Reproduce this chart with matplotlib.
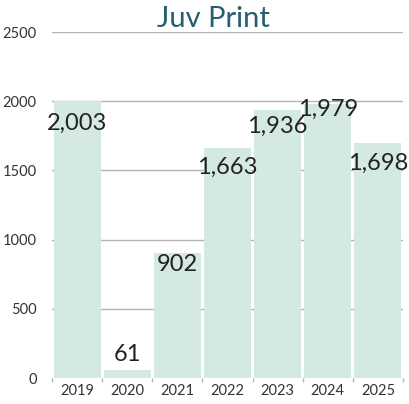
import matplotlib
import matplotlib.pyplot as plt
import numpy as np

matplotlib.use('agg')

years = ['2019', '2020', '2021', '2022', '2023', '2024', '2025']
values = [2003, 61, 902, 1663, 1936, 1979, 1698]
value_labels = ['2,003', '61', '902', '1,663', '1,936', '1,979', '1,698']
# label centre offset from the bar top, in points (negative = above)
label_offsets = [16, -11, 8, 14, 12, 4, 15]

bar_color = '#d3e9e1'
grid_color = '#b4b4b4'
text_color = '#222222'
title_color = '#245e70'

plt.rcParams['font.family'] = ['Lato', 'DejaVu Sans']

fig = plt.figure(figsize=(4.09, 4.04), dpi=100)
ax = fig.add_axes([52 / 409, 1 - 378 / 404, 351 / 409, 346 / 404])

x = np.arange(len(years))
ax.bar(x, values, width=0.94, color=bar_color, zorder=2)

for xi, v, lab, off in zip(x, values, value_labels, label_offsets):
    ax.annotate(lab, (xi, v), xytext=(0, -off), textcoords='offset points',
                ha='center', va='center', fontsize=17, color=text_color, zorder=3)

ax.set_xlim(-0.5, len(years) - 0.5)
ax.set_ylim(0, 2500)
ax.set_yticks([0, 500, 1000, 1500, 2000, 2500])
ax.set_xticks(x)
ax.set_xticklabels(years)
ax.set_xticks(np.arange(len(years) + 1) - 0.5, minor=True)
ax.tick_params(axis='x', which='major', length=0, labelsize=10.5, labelcolor='#333333', pad=4)
ax.tick_params(axis='x', which='minor', length=3, color=grid_color, width=1)
ax.tick_params(axis='y', length=0, labelsize=10.5, labelcolor='#333333', pad=11)
ax.yaxis.grid(True, color=grid_color, linewidth=1, zorder=0)
ax.set_axisbelow(True)
for side in ['left', 'right', 'top', 'bottom']:
    ax.spines[side].set_visible(False)

fig.text(213 / 409, 1 - 19 / 404, 'Juv Print', ha='center', va='center',
         fontsize=21, color=title_color)

fig.savefig('out.png', dpi=100)
plt.close()
